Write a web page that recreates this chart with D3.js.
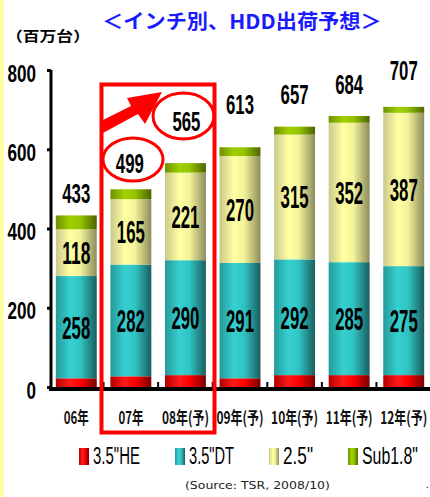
<!DOCTYPE html>
<html><head><meta charset="utf-8">
<script src="https://cdn.jsdelivr.net/npm/d3@7"></script>
<style>
html,body{margin:0;padding:0;background:#fff;}
svg{display:block;}
</style></head>
<body>
<script>
// ---- data ----
const categories = ["06年","07年","08年(予)","09年(予)","10年(予)","11年(予)","12年(予)"];
const he35 = [22, 27, 30, 22, 30, 30, 30];
const dt35 = [258, 282, 290, 291, 292, 285, 275];
const nb25 = [118, 165, 221, 270, 315, 352, 387];
const sub18 = [35, 25, 24, 22, 20, 17, 15];
const totals = [433, 499, 565, 613, 657, 684, 707];
const seriesNames = ['3.5"HE', '3.5"DT', '2.5"', 'Sub1.8"'];
const yTicks = [0, 200, 400, 600, 800];
const titleText = "＜インチ別、HDD出荷予想＞";
const unitText = "（百万台）";
const sourceText = "(Source: TSR, 2008/10)";

// ---- setup ----
const W = 430, H = 497;
const svg = d3.select("body").append("svg").attr("width", W).attr("height", H);
const SANS = "'Liberation Sans','Arial',sans-serif";
const CJK = "'Noto Sans CJK JP','Noto Sans',sans-serif";

svg.append("rect").attr("x",0).attr("y",0).attr("width",W).attr("height",H).attr("fill","#fff");
svg.append("rect").attr("x",0).attr("y",0).attr("width",4).attr("height",H).attr("fill","#ffffa6");

const x = d3.scaleBand().domain(categories).range([49, 431]).paddingInner(0.25).paddingOuter(0.125);
const y = d3.scaleLinear().domain([0, 800]).range([387, 70]);

// gradients
const defs = svg.append("defs");
const gradSpecs = [
  {id:"gHE",  stops:["#b30000","#ff1a1a","#ff0000","#7a0000"]},
  {id:"gDT",  stops:["#259a9a","#36d0d0","#30c4c4","#1a5e5e"]},
  {id:"g25",  stops:["#c9c98c","#ffffa3","#f3f39a","#8c8c5c"]},
  {id:"gSub", stops:["#6f8f00","#9fd000","#94c400","#4f6400"]}
];
gradSpecs.forEach(g => {
  const lg = defs.append("linearGradient").attr("id", g.id).attr("x1","0%").attr("x2","100%").attr("y1","0%").attr("y2","0%");
  [0, 0.35, 0.6, 1].forEach((o,i) => lg.append("stop").attr("offset", o).attr("stop-color", g.stops[i]));
});
const fills = ["url(#gHE)","url(#gDT)","url(#g25)","url(#gSub)"];

// horizontally squeezed text: drawn at natural size, then scaled to a target width
function squeezed(parent, txt, o){
  const g = parent.append("g");
  const t = g.append("text").text(txt)
    .attr("font-family", o.family || SANS)
    .attr("font-weight", o.weight || "bold")
    .attr("font-size", o.size)
    .attr("fill", o.fill || "#000")
    .attr("text-anchor", o.anchor || "middle");
  const w = t.node().getComputedTextLength();
  const sx = w > 0 ? o.width / w : 1;
  g.attr("transform", `translate(${o.x},${o.y}) scale(${sx},1)`);
  return g;
}

// stacked data
const rows = categories.map((c,i) => ({cat:c, s0:he35[i], s1:dt35[i], s2:nb25[i], s3:sub18[i]}));
const stack = d3.stack().keys(["s0","s1","s2","s3"])(rows);

const bars = svg.append("g");
stack.forEach((layer, li) => {
  bars.selectAll(null).data(layer).enter().append("rect")
    .attr("x", d => x(d.data.cat))
    .attr("width", x.bandwidth())
    .attr("y", d => y(d[1]))
    .attr("height", d => y(d[0]) - y(d[1]))
    .attr("fill", fills[li]);
});

// value labels inside DT and 2.5 segments
const segVals = [null, dt35, nb25];
[1,2].forEach(li => {
  stack[li].forEach((d, i) => {
    const cy = (y(d[0]) + y(d[1]))/2;
    squeezed(svg, String(segVals[li][i]), {
      x: x(d.data.cat) + x.bandwidth()/2, y: cy + 11.5, size: 32, width: 28
    });
  });
});

// total labels (lift above bar top in px; 07/08 sit in the highlighted ellipses)
const labelLift = [12, 16, 32, 33, 23, 22, 27];
totals.forEach((t,i) => {
  const top = y(he35[i] + dt35[i] + nb25[i] + sub18[i]);
  squeezed(svg, String(t), {
    x: x(categories[i]) + x.bandwidth()/2 + (i===2 ? 1 : (i===1 ? -1 : 0)),
    y: top - labelLift[i], size: 28, width: 28
  });
});

// y axis
const yAxis = svg.append("g").attr("transform","translate(51,0)")
  .call(d3.axisLeft(y).tickValues(yTicks).tickSize(4).tickSizeOuter(0).tickFormat(""));
yAxis.select(".domain").remove();
yAxis.selectAll(".tick line").attr("stroke","#000").attr("stroke-width",3);
yTicks.forEach(v => {
  const s = String(v);
  squeezed(svg, s, {x: 36, y: y(v) + 3 + 8.5, size: 24, width: s.length*9.5, anchor: "end"});
});
svg.append("line").attr("x1",51).attr("x2",51).attr("y1",y(800)).attr("y2",y(0)+3)
  .attr("stroke","#000").attr("stroke-width",3);

// x axis line and separators
svg.append("line").attr("x1",49).attr("x2",W).attr("y1",y(0)+2).attr("y2",y(0)+2)
  .attr("stroke","#000").attr("stroke-width",4);
const sepX = categories.slice(0,-1).map(c => x(c) + x.bandwidth() + x.step()*x.paddingInner()/2);
svg.selectAll(null).data(sepX).enter().append("line")
  .attr("x1",d=>d).attr("x2",d=>d).attr("y1",y(0)-5).attr("y2",y(0)+2)
  .attr("stroke","#000").attr("stroke-width",2);

// category labels
categories.forEach(c => {
  squeezed(svg, c, {
    x: x(c) + x.bandwidth()/2, y: 424, size: 17, width: c.length > 3 ? 47 : 25,
    family: CJK, weight: "bold", fill: "#111"
  });
});

// title and unit
squeezed(svg, titleText, {x: 102, y: 29, size: 20, width: 280, family: CJK, weight: "bold", fill: "#1a1aff", anchor: "start"});
squeezed(svg, unitText, {x: 6, y: 41, size: 14, width: 84, family: CJK, weight: "bold", anchor: "start"});

// highlight annotations
const ann = svg.append("g").attr("fill","none").attr("stroke","#ff0000");
ann.append("rect").attr("x",101.5).attr("y",84.5).attr("width",113).attr("height",348).attr("stroke-width",4);
ann.append("ellipse").attr("cx",133).attr("cy",159.5).attr("rx",30).attr("ry",21.5).attr("stroke-width",3);
ann.append("ellipse").attr("cx",183.5).attr("cy",116).attr("rx",30.5).attr("ry",23).attr("stroke-width",3);
svg.append("polygon")
  .attr("points","101,121 131,106 127,98 162,92 145,124 138,114 101,134")
  .attr("fill","#ff0000");

// legend
const legend = svg.append("g");
const legTextW = [47, 45, 30, 56];
let lx = 79;
seriesNames.forEach((n,i) => {
  legend.append("rect").attr("x",lx).attr("y",448).attr("width",10).attr("height",17).attr("fill",fills[i]);
  squeezed(legend, n, {x: lx+14, y: 464, size: 24, width: legTextW[i], weight: "normal", anchor: "start"});
  lx += 14 + legTextW[i] + 35;
});

// source
squeezed(svg, sourceText, {x: 185, y: 489, size: 11, width: 145, family: "'DejaVu Sans','Liberation Sans',sans-serif", weight: "normal", fill: "#222", anchor: "start"});
svg.append("text").text(".").attr("x",426).attr("y",488).attr("font-size",10).attr("fill","#000");
</script>
</body></html>
